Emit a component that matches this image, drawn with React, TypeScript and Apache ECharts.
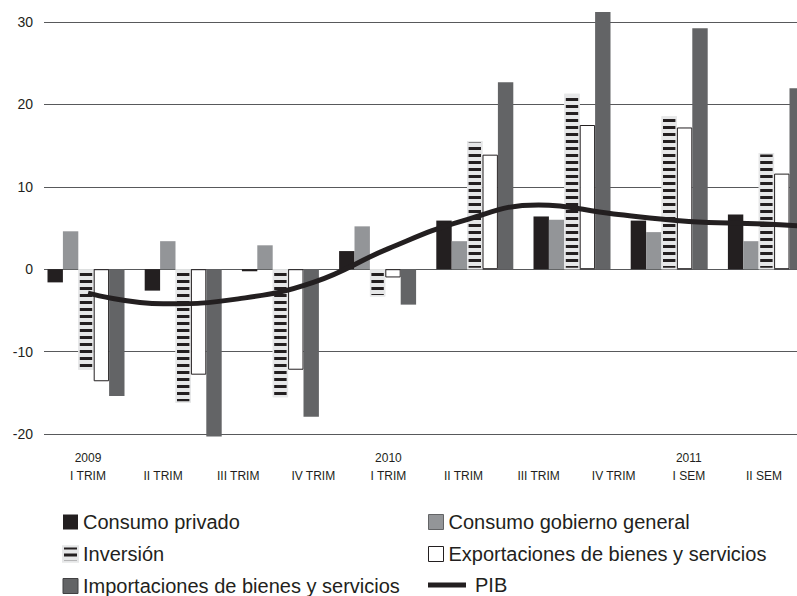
import React, { useEffect, useRef } from 'react';
import * as echarts from 'echarts';

// Bar groups (8 groups drawn across the plot)
const barGroups = ['G1', 'G2', 'G3', 'G4', 'G5', 'G6', 'G7', 'G8'];
const consumoPrivado = [-1.6, -2.6, -0.25, 2.2, 5.9, 6.4, 5.9, 6.65];
const consumoGobierno = [4.6, 3.4, 2.9, 5.2, 3.4, 6.0, 4.5, 3.4];
const inversion = [-12.2, -16.2, -15.55, -3.3, 15.55, 21.3, 18.55, 14.1];
const exportaciones = [-13.6, -12.8, -12.2, -1.0, 13.9, 17.5, 17.2, 11.6];
const importaciones = [-15.4, -20.3, -17.9, -4.3, 22.7, 31.2, 29.25, 21.95];

// Period axis (labels) and PIB line
const periodLabels = ['I TRIM', 'II TRIM', 'III TRIM', 'IV TRIM', 'I TRIM', 'II TRIM', 'III TRIM', 'IV TRIM', 'I SEM', 'II SEM', ''];
const yearLabels = ['2009', '', '', '', '2010', '', '', '', '2011', '', ''];
const pib = [-2.9, -4.2, -3.6, -1.6, 2.5, 5.9, 7.8, 6.7, 5.8, 5.5, 4.9];

const yMin = -20;
const yMax = 30;
const yInterval = 10;

const FONT = 'Liberation Sans, Arial, Helvetica, sans-serif';
const INK = '#231f20';

export default function App() {
  const ref = useRef<HTMLDivElement>(null);
  useEffect(() => {
    if (!ref.current) return;
    const chart = echarts.init(ref.current, null, { renderer: 'svg' });
    const top = 22;
    const height = 412;
    const barW = 15.4;
    const hiddenY = (gi: number) => ({
      gridIndex: gi, type: 'value', min: yMin, max: yMax, interval: yInterval, show: false,
      splitLine: { show: false },
    });
    const legendText = { fontSize: 20, fontFamily: FONT, color: INK, lineHeight: 20 };
    const option: any = {
      animation: false,
      backgroundColor: '#ffffff',
      grid: [
        { left: 44, top, width: 800, height },
        { left: 37.4, top, width: 777.6, height },
        { left: 50.45, top, width: 826.1, height },
      ],
      xAxis: [
        { gridIndex: 0, type: 'category', data: barGroups, show: false },
        {
          gridIndex: 1, type: 'category', data: barGroups,
          axisLine: { show: false }, axisTick: { show: false }, axisLabel: { show: false },
        },
        {
          gridIndex: 2, type: 'category', data: periodLabels,
          axisLine: { show: false }, axisTick: { show: false },
          axisLabel: {
            interval: 0, margin: 15, fontSize: 12, lineHeight: 18, fontFamily: FONT, color: INK,
            formatter: (v: string, i: number) => (yearLabels[i] || ' ') + '\n' + v,
          },
        },
      ],
      yAxis: [
        {
          gridIndex: 0, type: 'value', min: yMin, max: yMax, interval: yInterval,
          axisLine: { show: false }, axisTick: { show: false },
          splitLine: { lineStyle: { color: '#58595b', width: 1 } },
          axisLabel: { margin: 11, fontSize: 14, fontFamily: FONT, color: INK },
        },
        hiddenY(1),
        hiddenY(2),
      ],
      legend: [
        {
          left: 62, top: 512, orient: 'vertical', padding: 0, itemWidth: 15, itemHeight: 15, itemGap: 12,
          selectedMode: false, textStyle: legendText, icon: 'rect',
          data: [
            { name: 'Consumo privado', itemStyle: { color: INK, borderWidth: 0 } },
            { name: 'Inversión' },
            { name: 'Importaciones de bienes y servicios', itemStyle: { color: '#636466', borderColor: '#414042', borderWidth: 1 } },
          ],
        },
        {
          left: 428, top: 512, orient: 'vertical', padding: 0, itemWidth: 15, itemHeight: 15, itemGap: 12,
          selectedMode: false, textStyle: legendText, icon: 'rect',
          data: [
            { name: 'Consumo gobierno general', itemStyle: { color: '#939598', borderColor: '#636466', borderWidth: 1 } },
            { name: 'Exportaciones de bienes y servicios', itemStyle: { color: '#ffffff', borderColor: INK, borderWidth: 1 } },
          ],
        },
        {
          left: 428, top: 575, orient: 'horizontal', padding: 0, itemWidth: 38, itemHeight: 5,
          selectedMode: false, textStyle: { ...legendText, padding: [0, 0, 0, 4] }, icon: 'rect',
          data: [{ name: 'PIB', icon: 'rect', itemStyle: { color: INK } }],
        },
      ],
      series: [
        {
          name: 'Consumo privado', type: 'bar', xAxisIndex: 1, yAxisIndex: 1, data: consumoPrivado,
          barWidth: barW, barGap: '0%', clip: false, itemStyle: { color: INK },
        },
        {
          name: 'Consumo gobierno general', type: 'bar', xAxisIndex: 1, yAxisIndex: 1, data: consumoGobierno,
          barWidth: barW, barGap: '0%', clip: false, itemStyle: { color: '#939598' },
        },
        {
          name: 'Inversión', type: 'bar', xAxisIndex: 1, yAxisIndex: 1, data: inversion,
          barWidth: barW, barGap: '0%', clip: false,
          itemStyle: {
            color: '#e6e7e8', borderColor: '#e6e7e8', borderWidth: 1.5,
            decal: {
              symbol: 'rect', symbolSize: 1, symbolKeepAspect: false, color: INK,
              dashArrayX: [10, 0], dashArrayY: [3, 4], rotation: 0,
            },
          },
        },
        {
          name: 'Exportaciones de bienes y servicios', type: 'bar', xAxisIndex: 1, yAxisIndex: 1, data: exportaciones,
          barWidth: barW, barGap: '0%', clip: false, itemStyle: { color: '#ffffff', borderColor: INK, borderWidth: 1 },
        },
        {
          name: 'Importaciones de bienes y servicios', type: 'bar', xAxisIndex: 1, yAxisIndex: 1, data: importaciones,
          barWidth: barW, barGap: '0%', clip: false, itemStyle: { color: '#636466' },
        },
        {
          name: 'PIB', type: 'line', xAxisIndex: 2, yAxisIndex: 2, data: pib, smooth: 0.45,
          symbol: 'none', clip: false, lineStyle: { color: INK, width: 5 }, itemStyle: { color: INK }, z: 5,
        },
      ],
    };
    chart.setOption(option);
    return () => chart.dispose();
  }, []);
  return (
    <div style={{ position: 'fixed', left: 0, top: 0, width: 797, height: 596, overflow: 'hidden', background: '#fff' }}>
      <div ref={ref} style={{ width: 900, height: 596 }} />
    </div>
  );
}
